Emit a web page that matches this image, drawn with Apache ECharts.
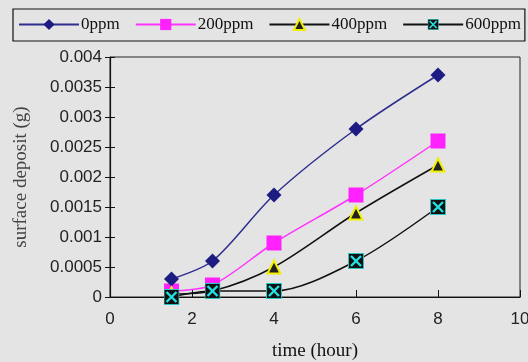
<!DOCTYPE html>
<html>
<head>
<meta charset="utf-8">
<script src="https://cdn.jsdelivr.net/npm/echarts@6/dist/echarts.min.js"></script>
<style>
  html, body { margin: 0; padding: 0; background: #e4e4e4; }
  #chart { width: 528px; height: 362px; }
</style>
</head>
<body>
<div id="chart"></div>
<script>
// values
const times = [1.5, 2.5, 4, 6, 8]
const ppm0 = [0.0003, 0.0006, 0.0017, 0.0028, 0.0037]
const ppm200 = [0.0001, 0.0002, 0.0009, 0.0017, 0.0026]
const ppm400 = [0.00005, 0.0001, 0.0005, 0.0014, 0.0022]
const ppm600 = [0.0, 0.0001, 0.0001, 0.0006, 0.0015]
const seriesNames = ['0ppm', '200ppm', '400ppm', '600ppm']

const pairs = ys => times.map((t, i) => [t, ys[i]])

const crossSvg =
  "<svg xmlns='http://www.w3.org/2000/svg' width='16' height='16'>" +
  "<rect x='0.5' y='0.5' width='15' height='15' fill='#111' stroke='#27c6c6' stroke-width='1'/>" +
  "<path d='M3,3L13,13M13,3L3,13' stroke='#22e0e0' stroke-width='2.4'/></svg>"
const crossSymbol = 'image://data:image/svg+xml;charset=utf-8,' + encodeURIComponent(crossSvg)

const serif = '"Liberation Serif", "Times New Roman", serif'
const sans = '"Liberation Sans", Arial, sans-serif'

const chart = echarts.init(document.getElementById('chart'))

chart.setOption({
  backgroundColor: '#e4e4e4',
  animation: false,
  legend: {
    data: seriesNames,
    left: 13,
    top: 9,
    width: 509,
    padding: [7, 4, 8, 5],
    itemWidth: 60,
    itemHeight: 14,
    itemGap: 15,
    borderColor: '#111',
    borderWidth: 1.2,
    textStyle: { fontFamily: serif, fontSize: 17, color: '#111', padding: [0, 0, 0, -3] }
  },
  grid: {
    left: 110,
    right: 8,
    top: 57,
    bottom: 65,
    outerBoundsMode: 'none',
    show: true,
    borderColor: '#222',
    borderWidth: 1,
    backgroundColor: 'transparent'
  },
  xAxis: {
    type: 'value',
    min: 0,
    max: 10,
    interval: 2,
    name: 'time (hour)',
    nameLocation: 'middle',
    nameGap: 45,
    nameTextStyle: { fontFamily: serif, fontSize: 19, color: '#111' },
    axisLine: { lineStyle: { color: '#111', width: 1.2 } },
    axisTick: { inside: true, length: 7, lineStyle: { color: '#111' } },
    axisLabel: { fontFamily: sans, fontSize: 17, color: '#222', margin: 14 },
    splitLine: { show: false }
  },
  yAxis: [
    {
      type: 'value',
      min: 0,
      max: 0.004,
      interval: 0.0005,
      name: 'surface deposit (g)',
      nameLocation: 'middle',
      nameGap: 79,
      nameTextStyle: { fontFamily: serif, fontSize: 19, color: '#444' },
      axisLine: { show: true, lineStyle: { color: '#111', width: 1.2 } },
      axisTick: { show: true, length: 5, lineStyle: { color: '#111' } },
      axisLabel: { fontFamily: sans, fontSize: 17, color: '#222', margin: 8 },
      splitLine: { show: false }
    },
    {
      // same axis again, only for the inner half of the crossing ticks
      type: 'value',
      position: 'left',
      min: 0,
      max: 0.004,
      interval: 0.0005,
      axisLine: { show: false },
      axisTick: { show: true, inside: true, length: 5, lineStyle: { color: '#111' } },
      axisLabel: { show: false },
      splitLine: { show: false }
    }
  ],
  series: [
    {
      name: seriesNames[0],
      type: 'line',
      smooth: 0.3,
      data: pairs(ppm0),
      symbol: 'diamond',
      symbolSize: 15,
      lineStyle: { color: '#2e2e8e', width: 1.5 },
      itemStyle: { color: '#1c1c82' },
      z: 4
    },
    {
      name: seriesNames[1],
      type: 'line',
      smooth: 0.3,
      data: pairs(ppm200),
      symbol: 'rect',
      symbolSize: 15,
      lineStyle: { color: '#ff33ff', width: 1.5 },
      itemStyle: { color: '#ff22ff' },
      z: 3
    },
    {
      name: seriesNames[2],
      type: 'line',
      smooth: 0.3,
      data: pairs(ppm400),
      symbol: 'triangle',
      symbolSize: 13,
      lineStyle: { color: '#111', width: 1.5 },
      itemStyle: { color: '#222', borderColor: '#f0f000', borderWidth: 2 },
      z: 5
    },
    {
      name: seriesNames[3],
      type: 'line',
      smooth: 0.3,
      data: pairs(ppm600),
      symbol: crossSymbol,
      symbolSize: 16,
      lineStyle: { color: '#111', width: 1.5 },
      itemStyle: { color: '#111' },
      z: 6
    }
  ]
})
</script>
</body>
</html>
